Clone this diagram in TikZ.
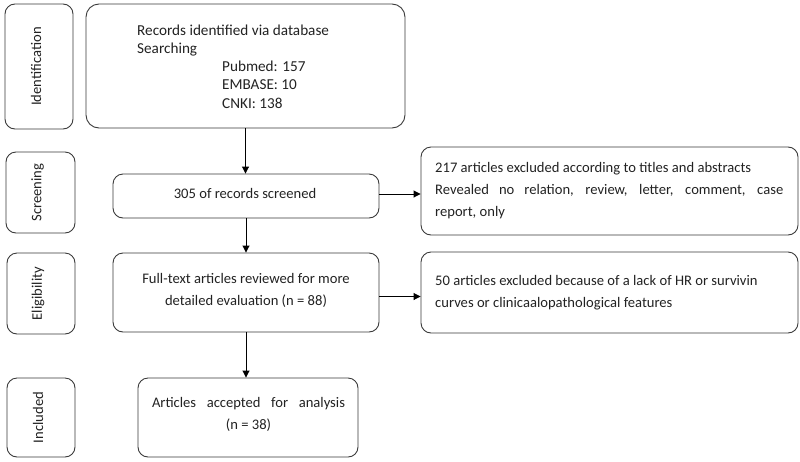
\documentclass[tikz,border=0pt]{standalone}
\usepackage{fontspec}
\setmainfont{Carlito}
\usetikzlibrary{arrows.meta}
\definecolor{linegray}{HTML}{3A3A3A}
\definecolor{textgray}{HTML}{222222}
\begin{document}
\begin{tikzpicture}[x=1pt,y=-1pt,
  box/.style={draw=linegray, line width=0.9pt, rounded corners=10pt, inner sep=0pt,
              text=textgray, font=\fontsize{14.6}{22}\selectfont, align=center},
  side/.style={box, minimum width=68pt},
  txt/.style={inner sep=0pt, text=textgray, font=\fontsize{14.6}{22}\selectfont},
  arr/.style={draw=black, line width=0.9pt, -{Triangle[length=7pt,width=7pt]}}]
\useasboundingbox (0,0) rectangle (800,461);

% stage labels
\node[side, minimum height=125pt] (sid) at (39,66.5) {\rotatebox{90}{Identification}\hspace*{6pt}};
\node[side, minimum width=69pt, minimum height=81pt] (sscr) at (40.5,192.5) {\rotatebox{90}{Screening}\hspace*{6pt}};
\node[side, minimum height=81pt] (selig) at (41,293.5) {\rotatebox{90}{Eligibility}\hspace*{6pt}};
\node[side, minimum height=79pt] (sinc) at (41,417.5) {\rotatebox{90}{Included}\hspace*{6pt}};

% main boxes
\node[box, rounded corners=13pt, minimum width=319pt, minimum height=124pt] (records) at (245.5,66) {};
\node[txt, anchor=west, align=left, font=\fontsize{15.2}{18.2}\selectfont] (rectext) at (137,66.5)
  {Records identified via database\\Searching\\
   \hspace*{85pt}Pubmed: 157\\\hspace*{85pt}EMBASE: 10\\\hspace*{85pt}CNKI: 138};

\node[box, minimum width=266pt, minimum height=44pt] (screened) at (246,196) {};
\node[txt] (scrtext) at (245,193.5) {305 of records screened};

\node[box, minimum width=266pt, minimum height=79pt] (fulltext) at (246,292.5) {};
\node[txt, align=center] (fttext) at (246,290.5) {Full-text articles reviewed for more\\detailed evaluation (n = 88)};

\node[box, minimum width=220pt, minimum height=79pt] (accepted) at (248,417.5) {};
\node[txt, align=center] (acctext) at (248.5,414)
  {\makebox[193pt][s]{Articles accepted for analysis}\\(n = 38)};

% exclusion boxes
\node[box, minimum width=377pt, minimum height=88pt] (ex1) at (609.5,191) {};
\node[txt, anchor=west, align=left] (ex1text) at (435,190.5)
  {217 articles excluded according to titles and abstracts\\
   \makebox[348pt][s]{Revealed no relation, review, letter, comment, case}\\
   report, only};

\node[box, minimum width=377pt, minimum height=81pt] (ex2) at (609.5,292.5) {};
\node[txt, anchor=west, align=left] (ex2text) at (435,292.5)
  {50 articles excluded because of a lack of HR or survivin\\
   curves or clinicaalopathological features};

% connectors
\draw[arr] (records.south) -- (records.south |- screened.north);
\draw[arr] (screened.south) -- (fulltext.north);
\draw[arr] (fulltext.south) -- (fulltext.south |- accepted.north);
\draw[arr] ([yshift=2pt]screened.east) -- ([yshift=2pt]screened.east -| ex1.west);
\draw[arr] ([yshift=-4pt]fulltext.east) -- ([yshift=-4pt]fulltext.east -| ex2.west);
\end{tikzpicture}
\end{document}
